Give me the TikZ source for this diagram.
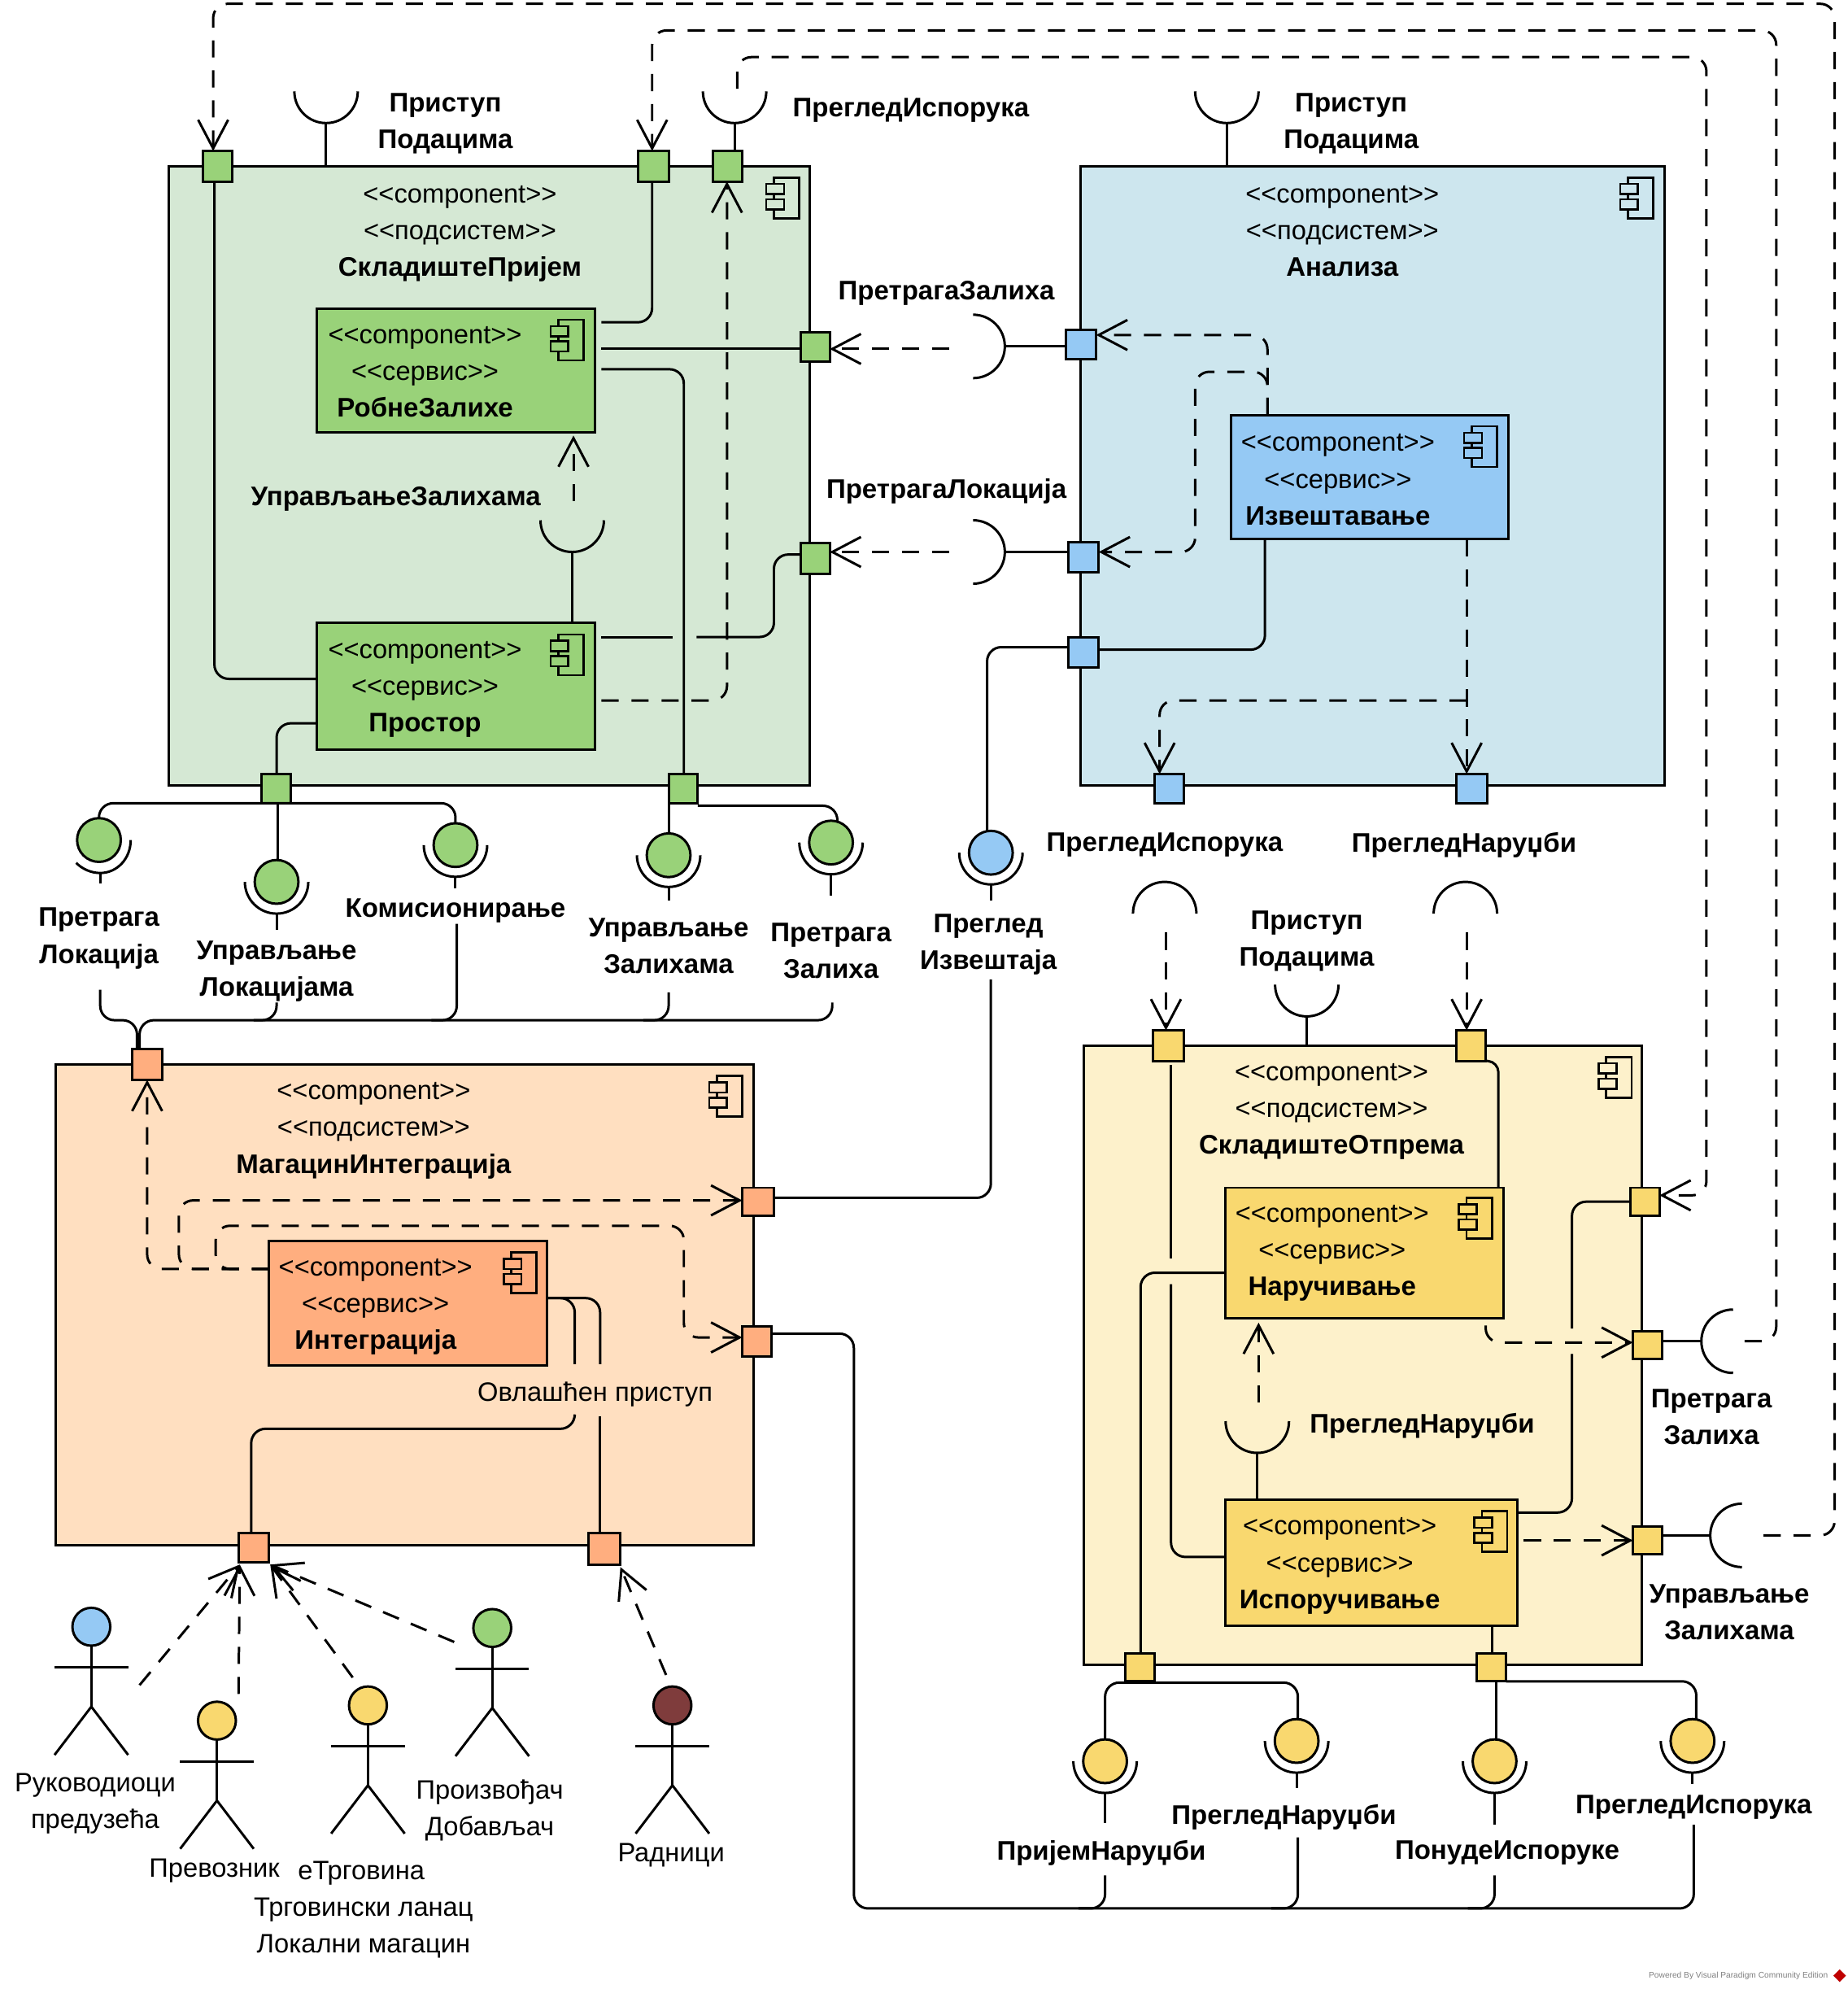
\documentclass[tikz,border=0pt]{standalone}
\usepackage{fontspec}
\setmainfont{Liberation Sans}
\usetikzlibrary{arrows.meta,calc,shapes.geometric}
\definecolor{gsub}{HTML}{D5E8D4}\definecolor{gcomp}{HTML}{99D279}
\definecolor{bsub}{HTML}{CDE6EE}\definecolor{bcomp}{HTML}{95C9F4}
\definecolor{osub}{HTML}{FFDFC0}\definecolor{ocomp}{HTML}{FFAE7F}
\definecolor{ysub}{HTML}{FDF1CB}\definecolor{ycomp}{HTML}{F9D86F}
\definecolor{dred}{HTML}{7F3C3C}
\def\unitpt{0.88761}
\newcommand\CMP{<{}<component>{}>}
\newcommand\PSS{<{}<подсистем>{}>}
\newcommand\SRV{<{}<сервис>{}>}
\newcommand\BB[1]{{\fontsize{18.8}{25.7}\selectfont\bfseries #1}}
\tikzset{x=0.88761pt,y=-0.88761pt,
 boxs/.style={draw=black,line width=1.7pt,inner sep=0pt,outer sep=0pt,rectangle},
 wire/.style={draw=black,line width=1.7pt,rounded corners=10pt},
 curve/.style={draw=black,line width=1.7pt,sharp corners},
 dep/.style={draw=black,line width=1.7pt,rounded corners=10pt,dash pattern=on 12pt off 9pt,-{Straight Barb[length=20pt,width=21pt]}},
 off/.style={shorten <=4.5pt},
 lbl/.style={font=\fontsize{18.8}{25.7}\selectfont\bfseries,align=center,inner sep=0pt,yshift=-1.8pt},
 txt/.style={font=\fontsize{18.6}{25.7}\selectfont,align=center,inner sep=0pt,yshift=-1.8pt},
 ballnode/.style={circle,draw=black,line width=1.7pt,minimum size=30.6pt,inner sep=0pt,outer sep=0pt},
 headnode/.style={circle,draw=black,line width=1.7pt,minimum size=26.5pt,inner sep=0pt,outer sep=0pt},
 icon/.style={draw=black,line width=1.5pt}}
\newcommand\Rct[6]{\pgfmathsetmacro\rw{(#4-#2)*\unitpt}\pgfmathsetmacro\rh{(#5-#3)*\unitpt}%
 \node[boxs,#6,minimum width=\rw pt,minimum height=\rh pt] (#1) at ({(#2+#4)/2},{(#3+#5)/2}) {};}
\newcommand\Icon[3]{\draw[icon] (#1,#2) rectangle ++(20,32);
 \draw[icon,fill=#3] ({#1-6},{#2+5}) rectangle ++(14,8);
 \draw[icon,fill=#3] ({#1-6},{#2+17}) rectangle ++(14,8);}
\newcommand\Sock[5]{% name cx cy dx dy
 \coordinate (#1) at ({#2+25*#4},{#3+25*#5});
 \draw[curve] ({#2-25*#5},{#3-25*#4}) .. controls +({13.8*#4},{13.8*#5}) and +({-13.8*#5},{-13.8*#4}) .. (#1) .. controls +({13.8*#5},{13.8*#4}) and +({13.8*#4},{13.8*#5}) .. ({#2+25*#5},{#3+25*#4});}
\newcommand\Ball[5]{% name x y colour stemend
 \node[ballnode,fill=#4] (#1) at (#2,#3) {};
 \Sock{#1b}{#2}{#3}{0}{1}
 \draw[curve] (#1b) -- (#2,#5);}
\newcommand\Actor[4]{% name x y colour
 \node[headnode,fill=#4] (#1) at (#2,#3) {};
 \coordinate (#1h) at (#2,{#3+63});
 \draw[curve] (#1.south) -- (#1h);
 \draw[curve] ({#2-29},{#3+32}) -- ++(58,0);
 \draw[curve] ({#2-29},{#3+101}) -- (#1h) -- ({#2+29},{#3+101});}
\begin{document}
\begin{tikzpicture}
\useasboundingbox[fill=white] (0,0) rectangle (1456,1567.5);
% subsystems
\Rct{gs}{133}{131}{638}{619}{fill=gsub}
\Rct{bs}{852}{131}{1312}{619}{fill=bsub}
\Rct{os}{44}{839}{594}{1218}{fill=osub}
\Rct{ys}{854}{824}{1294}{1312}{fill=ysub}
\Icon{610}{140}{gsub}\Icon{1283}{140}{bsub}\Icon{565}{848}{osub}\Icon{1266}{833}{ysub}
% components
\Rct{robne}{250}{243}{469}{341}{fill=gcomp}
\Rct{prostor}{250}{491}{469}{591}{fill=gcomp}
\Rct{izv}{970}{327}{1189}{425}{fill=bcomp}
\Rct{integ}{212}{978}{431}{1076}{fill=ocomp}
\Rct{naruc}{966}{936}{1185}{1039}{fill=ycomp}
\Rct{ispor}{966}{1182}{1196}{1281}{fill=ycomp}
\Icon{440}{252}{gcomp}\Icon{440}{500}{gcomp}\Icon{1160}{336}{bcomp}\Icon{403}{987}{ocomp}\Icon{1156}{944}{ycomp}\Icon{1168}{1191}{ycomp}
% ports
\Rct{g1}{160}{119}{183}{143}{fill=gcomp}
\Rct{g2}{503}{119}{527}{143}{fill=gcomp}
\Rct{g3}{562}{119}{585}{143}{fill=gcomp}
\Rct{g4}{631}{262}{654}{285}{fill=gcomp}
\Rct{g5}{631}{428}{654}{452}{fill=gcomp}
\Rct{g6}{206}{610}{229}{633}{fill=gcomp}
\Rct{g7}{527}{610}{550}{633}{fill=gcomp}
\Rct{b1}{840}{260}{864}{283}{fill=bcomp}
\Rct{b2}{842}{427}{866}{451}{fill=bcomp}
\Rct{b3}{842}{502}{866}{526}{fill=bcomp}
\Rct{b4}{910}{610}{933}{633}{fill=bcomp}
\Rct{b5}{1148}{610}{1172}{633}{fill=bcomp}
\Rct{o1}{104}{827}{128}{851}{fill=ocomp}
\Rct{o2}{585}{936}{610}{958}{fill=ocomp}
\Rct{o3}{585}{1045}{608}{1069}{fill=ocomp}
\Rct{o4}{188}{1208}{212}{1231}{fill=ocomp}
\Rct{o5}{464}{1208}{489}{1233}{fill=ocomp}
\Rct{y1}{909}{812}{933}{836}{fill=ycomp}
\Rct{y2}{1148}{812}{1171}{836}{fill=ycomp}
\Rct{y3}{1285}{936}{1308}{958}{fill=ycomp}
\Rct{y4}{1287}{1049}{1310}{1071}{fill=ycomp}
\Rct{y5}{1287}{1203}{1310}{1225}{fill=ycomp}
\Rct{y6}{887}{1303}{910}{1325}{fill=ycomp}
\Rct{y7}{1164}{1303}{1187}{1325}{fill=ycomp}
% sockets
\Sock{s1}{257}{72}{0}{1}
\Sock{s2}{579}{72}{0}{1}
\Sock{s3}{967}{72}{0}{1}
\Sock{s4}{1030}{776}{0}{1}
\Sock{s5}{451}{410}{0}{1}
\Sock{s6}{991}{1120}{0}{1}
\Sock{s7}{767}{273}{1}{0}
\Sock{s8}{767}{435}{1}{0}
\Sock{s9}{918}{720}{0}{-1}
\Sock{s10}{1155}{720}{0}{-1}
\Sock{s11}{1366}{1057}{-1}{0}
\Sock{s12}{1373}{1210}{-1}{0}
\draw[wire] (s1) -- (s1 |- gs.north);
\draw[wire] (s2) -- (s2 |- g3.north);
\draw[wire] (s3) -- (s3 |- bs.north);
\draw[wire] (s4) -- (s4 |- ys.north);
\draw[wire] (s5) -- (s5 |- prostor.north);
\draw[wire] (s6) -- (s6 |- ispor.north);
\draw[wire] (s7) -- (b1.west |- s7);
\draw[wire] (s8) -- (b2.west |- s8);
\draw[wire] (s11) -- (y4.east |- s11);
\draw[wire] (s12) -- (y5.east |- s12);
% balls
\node[ballnode,fill=gcomp] (p1) at (78,662) {};
\coordinate (p1b) at (79,688);
\draw[curve] (103,662) .. controls (103,677) and (92,688) .. (p1b) .. controls (72,688) and (65,685) .. (60,680);
\draw[curve] (p1b) -- (79,696);
\Ball{p2}{218}{695}{gcomp}{733}\Ball{p3}{359}{666}{gcomp}{700}\Ball{p4}{527}{674}{gcomp}{710}\Ball{p5}{655}{664}{gcomp}{706}
\Ball{p6}{781}{672}{bcomp}{710}
\Ball{p7}{871}{1388}{ycomp}{1437}\Ball{p8}{1022}{1372}{ycomp}{1409}\Ball{p9}{1178}{1388}{ycomp}{1438}\Ball{p10}{1334}{1372}{ycomp}{1406}
% green wiring
\draw[wire] (g1.south -| 169,0) -- (169,535) -- (prostor.west |- 0,535);
\draw[wire,off] (robne.east |- 0,254) -- (514,254) -- (g2.south -| 514,0);
\draw[wire,off] (robne.east |- 0,275) -- (g4.west |- 0,275);
\draw[wire,off] (robne.east |- 0,291) -- (539,291) -- (g7.north -| 539,0);
\coordinate (gh1) at (530,502);\coordinate (gh2) at (549,502);
\draw[wire,off] (prostor.east |- gh1) -- (gh1);
\draw[wire] (gh2) -- (610,502) -- (610,437) -- (g5.west |- 0,437);
\draw[dep,off] (prostor.east |- 0,552) -- (573,552) -- (g3.south -| 573,0);
\draw[wire] (prostor.west |- 0,570) -- (218,570) -- (g6.north -| 218,0);
\coordinate (d1) at (748,275);\coordinate (d2) at (748,435);\coordinate (d3) at (452,395);
\draw[dep] (d1) -- (g4.east |- d1);
\draw[dep] (d2) -- (g5.east |- d2);
\draw[dep,shorten >=2pt] (d3) -- (robne.south -| d3);
% green lollipops
\draw[wire] (p1.north) -- (78,633) -- (359,633) -- (p3.north -| 359,0);
\draw[wire] (g6.south -| 219,0) -- (p2.north -| 219,0);
\draw[wire] (g7.south -| 527,0) -- (p4.north);
\draw[wire] (g7.south east |- 0,635) -- (660,635) -- (p5.north -| 660,0);
% bus to orange
\coordinate (bl1) at (79,780);\coordinate (bl2) at (656,790);\coordinate (bl3) at (218,790);\coordinate (bl4) at (360,728);\coordinate (bl5) at (527,782);
\draw[wire] (bl1) -- (79,804) -- (108,804) -- (o1.north -| 108,0);
\draw[wire] (o1.north -| 110,0) -- (110,804) -- (656,804) -- (bl2);
\draw[wire] (bl3) -- (218,804) -- (200,804);
\draw[wire] (bl4) -- (360,804) -- (340,804);
\draw[wire] (bl5) -- (527,804) -- (507,804);
% blue
\draw[dep] (izv.north -| 999,0) -- (999,264) -- (b1.east |- 0,264);
\draw[dep] (izv.north -| 999,0) -- (999,293) -- (942,293) -- (942,435) -- (b2.east |- 0,435);
\draw[wire] (izv.south -| 997,0) -- (997,512) -- (b3.east |- 0,512);
\draw[wire] (b3.west |- 0,510) -- (778,510) -- (p6.north -| 778,0);
\draw[dep] (izv.south -| 1156,0) -- (b5.north -| 1156,0);
\draw[dep] (1156,552) -- (914,552) -- (b4.north -| 914,0);
\coordinate (d4) at (919,735);\coordinate (d5) at (1156,735);
\draw[dep] (d4) -- (y1.north -| d4);
\draw[dep] (d5) -- (y2.north -| d5);
% report to orange
\coordinate (r1) at (781,772);
\draw[wire] (r1) -- (781,944) -- (o2.east |- 0,944);
% yellow
\coordinate (yh1) at (923,992);\coordinate (yh2) at (923,1012);
\draw[wire,shorten <=3pt] (y1.south -| yh1) -- (yh1);
\draw[wire] (yh2) -- (923,1227) -- (ispor.west |- 0,1227);
\draw[wire] (naruc.west |- 0,1003) -- (899,1003) -- (y6.north -| 899,0);
\draw[wire,rounded corners=7pt] (y2.south east) -- (1181,837) -- (naruc.north -| 1181,0);
\coordinate (yh3) at (1239,1047);\coordinate (yh4) at (1239,1067);
\draw[wire] (y3.west |- 0,947) -- (1239,947) -- (yh3);
\draw[wire] (yh4) -- (1239,1192) -- (ispor.east |- 0,1192);
\draw[dep,shorten <=5pt] (naruc.south -| 1171,0) -- (1171,1058) -- (y4.west |- 0,1058);
\draw[dep,off] (ispor.east |- 0,1214) -- (y5.west |- 0,1214);
\coordinate (d6) at (992,1105);
\draw[dep,shorten >=3pt] (d6) -- (naruc.south -| d6);
\draw[wire] (ispor.south -| 1176,0) -- (y7.north -| 1176,0);
% yellow lollipops
\draw[wire] (p7.north) -- (871,1326) -- (1023,1326) -- (p8.north -| 1023,0);
\draw[wire] (y7.south -| 1179,0) -- (p9.north -| 1179,0);
\draw[wire] (y7.south east |- 0,1325) -- (1337,1325) -- (p10.north -| 1337,0);
% bottom bus
\coordinate (e1) at (1335,1438);\coordinate (e2) at (871,1478);\coordinate (e3) at (1023,1448);\coordinate (e4) at (1178,1478);
\draw[wire] (o3.east |- 0,1051) -- (673,1051) -- (673,1504) -- (1335,1504) -- (e1);
\draw[wire] (e2) -- (871,1504) -- (850,1504);
\draw[wire] (e3) -- (1023,1504) -- (1002,1504);
\draw[wire] (e4) -- (1178,1504) -- (1157,1504);
% long dashed
\coordinate (l1) at (581,70);
\draw[dep] (l1) -- (581,45) -- (1345,45) -- (1345,942) -- (y3.east |- 0,942);
\coordinate (l2) at (1375,1057);
\draw[dep] (l2) -- (1400,1057) -- (1400,24) -- (514,24) -- (g2.north -| 514,0);
\coordinate (l3) at (1390,1210);
\draw[dep] (l3) -- (1446,1210) -- (1446,3) -- (168,3) -- (g1.north -| 168,0);
% orange
\draw[dep] (integ.west |- 0,1000) -- (116,1000) -- (o1.south);
\draw[dep] (integ.west |- 0,1000) -- (141,1000) -- (141,946) -- (o2.west |- 0,946);
\draw[dep] (integ.west |- 0,1000) -- (170,1000) -- (170,966) -- (539,966) -- (539,1054) -- (o3.west |- 0,1054);
\coordinate (w1) at (453,1075);\coordinate (w2) at (473,1075);\coordinate (w3) at (453,1116);\coordinate (w4) at (473,1116);
\draw[wire] (integ.east |- 0,1023) -- (453,1023) -- (w1);
\draw[wire] (integ.east |- 0,1023) -- (473,1023) -- (w2);
\draw[wire] (w3) -- (453,1126) -- (198,1126) -- (o4.north -| 198,0);
\draw[wire] (w4) -- (o5.north -| w4);
% actors
\Actor{a1}{72}{1282}{bcomp}\Actor{a2}{171}{1356}{ycomp}\Actor{a3}{290}{1344}{ycomp}\Actor{a4}{388}{1283}{gcomp}\Actor{a5}{530}{1344}{dred}
\coordinate (c1) at (110,1328);\coordinate (c2) at (188,1335);\coordinate (c3) at (278,1322);\coordinate (c4) at (358,1294);\coordinate (c5) at (525,1320);
\coordinate (t1) at (189,1233);\coordinate (t2) at (213,1233);\coordinate (t3) at (489,1235);
\draw[dep] (c1) -- (t1);
\draw[dep] (c2) -- (t1);
\draw[dep] (c3) -- (t2);
\draw[dep] (c4) -- (t2);
\draw[dep] (c5) -- (t3);
% subsystem titles
\node[txt] (tg) at (362.5,182) {\CMP\\\PSS\\\BB{СкладиштеПријем}};
\node[txt] (tb) at (1058,180) {\CMP\\\PSS\\\BB{Анализа}};
\node[txt] (to) at (294.5,889) {\CMP\\\PSS\\\BB{МагацинИнтеграција}};
\node[txt] (ty) at (1049.5,874) {\CMP\\\PSS\\\BB{СкладиштеОтпрема}};
% component titles
\node[txt] (t1c) at (335,291) {\CMP\\\SRV\\\BB{РобнеЗалихе}};
\node[txt] (t2c) at (335,541) {\CMP\\\SRV\\\BB{Простор}};
\node[txt] (t3c) at (1054.5,376) {\CMP\\\SRV\\\BB{Извештавање}};
\node[txt] (t4c) at (296,1028) {\CMP\\\SRV\\\BB{Интеграција}};
\node[txt] (t5c) at (1050,985.5) {\CMP\\\SRV\\\BB{Наручивање}};
\node[txt] (t6c) at (1056,1232) {\CMP\\\SRV\\\BB{Испоручивање}};
% labels
\node[lbl] (n1) at (351,95.5) {Приступ\\Подацима};
\node[lbl] (n2) at (1065,95.5) {Приступ\\Подацима};
\node[lbl] (n3) at (718,85) {ПрегледИспорука};
\node[lbl] (n4) at (746,229) {ПретрагаЗалиха};
\node[lbl] (n5) at (746,385) {ПретрагаЛокација};
\node[lbl] (n6) at (312,391) {УправљањеЗалихама};
\node[lbl] (n7) at (78,737.5) {Претрага\\Локација};
\node[lbl] (n8) at (218,763.5) {Управљање\\Локацијама};
\node[lbl] (n9) at (359,716) {Комисионирање};
\node[lbl] (n10) at (527,743.5) {Управљање\\Залихама};
\node[lbl] (n11) at (655,747.5) {Претрага\\Залиха};
\node[lbl] (n12) at (779,742.5) {Преглед\\Извештаја};
\node[lbl] (n13) at (918,664) {ПрегледИспорука};
\node[lbl] (n14) at (1154,664) {ПрегледНаруџби};
\node[lbl] (n15) at (1030,739.5) {Приступ\\Подацима};
\node[lbl] (n16) at (1121,1122) {ПрегледНаруџби};
\node[lbl] (n17) at (1349,1114.5) {Претрага\\Залиха};
\node[lbl] (n18) at (1363,1268.5) {Управљање\\Залихама};
\node[lbl] (n19) at (868,1458) {ПријемНаруџби};
\node[lbl] (n20) at (1012,1430) {ПрегледНаруџби};
\node[lbl] (n21) at (1188,1458) {ПонудеИспоруке};
\node[lbl] (n22) at (1335,1422) {ПрегледИспорука};
\node[txt] (n23) at (469,1097) {Овлашћен приступ};
\node[txt] (n24) at (75,1419.5) {Руководиоци\\предузећа};
\node[txt] (n25) at (169,1472) {Превозник};
\node[txt] (n26) at (286.5,1503) {\hspace*{-3pt}еТрговина\\Трговински ланац\\Локални магацин};
\node[txt] (n27) at (386,1424.5) {Произвођач\\Добављач};
\node[txt] (n28) at (529,1460) {Радници};
\node[font=\fontsize{5.8}{7}\selectfont,text=gray,inner sep=0pt,anchor=east] (n29) at (1441,1557) {Powered By Visual Paradigm Community Edition};
\node[diamond,fill=red!75!black,inner sep=0pt,minimum size=9pt] (logo) at (1450,1557) {};
\end{tikzpicture}
\end{document}
